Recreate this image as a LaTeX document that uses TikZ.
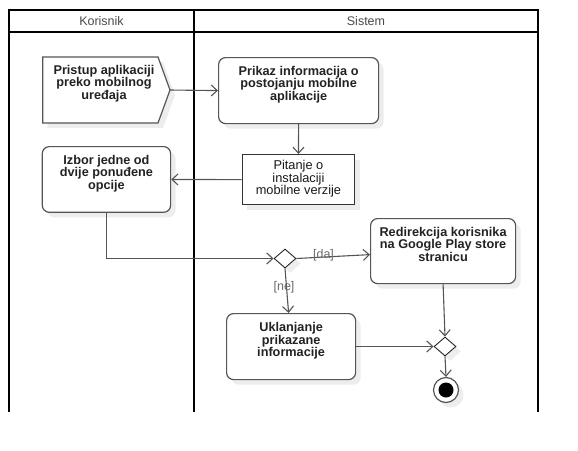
\documentclass[tikz,border=0pt]{standalone}
\usepackage{fontspec}
\setmainfont{Liberation Sans}
\usetikzlibrary{arrows.meta,shapes.geometric,shadows,calc}
\definecolor{edgec}{HTML}{555555}
\definecolor{txtc}{HTML}{222222}
\definecolor{hdrc}{HTML}{4A4A4A}
\definecolor{lblc}{HTML}{6A6A6A}
\begin{document}
\begin{tikzpicture}[x=1pt,y=-1pt,
  lane/.style={line width=1.7pt, draw=black, line cap=rect},
  sh/.style={drop shadow={shadow xshift=5pt, shadow yshift=-5pt, fill=black!7, opacity=1}},
  act/.style={draw=edgec, line width=1.2pt, rounded corners=7pt, fill=white, sh, inner sep=0pt},
  plainbox/.style={draw=black!80, line width=1.2pt, fill=white, sh, inner sep=0pt},
  btxt/.style={inner sep=0pt, align=center, text=txtc, font=\fontsize{12.7}{12.4}\selectfont\bfseries},
  rtxt/.style={inner sep=0pt, align=center, text=black!90, font=\fontsize{12.8}{12.2}\selectfont},
  hdr/.style={inner sep=0pt, text=hdrc, font=\fontsize{12.5}{14}\selectfont},
  lbl/.style={inner sep=0pt, text=lblc, font=\fontsize{12.5}{14}\selectfont},
  dec/.style={diamond, draw=black!85, line width=0.9pt, fill=white, sh, minimum width=22pt, minimum height=19pt, inner sep=0pt},
  arr/.style={draw=edgec, line width=1.1pt, -{Straight Barb[length=6pt,width=11pt]}}
]
\useasboundingbox (0,0) rectangle (578,450);

% swimlanes
\draw[lane] (9,10) -- (538,10);
\draw[lane] (9,32) -- (538,32);
\draw[lane] (9,10) -- (9,411);
\draw[lane] (194,10) -- (194,411);
\draw[lane] (538,10) -- (538,411);
\node[hdr] (hk) at (101.5,21.5) {Korisnik};
\node[hdr] (hs) at (366,21.5) {Sistem};

% send signal
\draw[draw=edgec, line width=1.2pt, fill=white, sh] (42.7,57) -- (158,57) -- (170,90) -- (158,123) -- (42.7,123) -- cycle;
\coordinate (sigtip) at (170,90);
\node[btxt, anchor=north] (sigt) at (104,65) {Pristup aplikaciji\\preko mobilnog\\uređaja};

% Prikaz
\node[act, minimum width=160pt, minimum height=66pt, anchor=north west] (prikaz) at (218,57) {};
\node[btxt, anchor=north] (prikazt) at ($(prikaz.north)+(0,9)$) {Prikaz informacija o\\postojanju mobilne\\aplikacije};

% Pitanje
\node[plainbox, minimum width=112.3pt, minimum height=50pt, anchor=north west] (pit) at (241.7,154) {};
\node[rtxt, anchor=north] (pitt) at ($(pit.north)+(0,6.5)$) {Pitanje o\\instalaciji\\mobilne verzije};

% Izbor
\node[act, minimum width=128.3pt, minimum height=65.7pt, anchor=north west] (izbor) at (41.7,146) {};
\node[btxt, anchor=north] (izbort) at ($(izbor.north)+(0,9)$) {Izbor jedne od\\dvije ponuđene\\opcije};

% decision
\node[dec] (d1) at (285,258.5) {};

% Redirekcija
\node[act, minimum width=145pt, minimum height=65pt, anchor=north west] (redir) at (370,218) {};
\node[btxt, anchor=north] (redirt) at ($(redir.north)+(0,9)$) {Redirekcija korisnika\\na Google Play store\\stranicu};

% Uklanjanje
\node[act, minimum width=129pt, minimum height=66pt, anchor=north west] (ukl) at (226,313) {};
\node[btxt, anchor=north] (uklt) at ($(ukl.north)+(0,9.5)$) {Uklanjanje\\prikazane\\informacije};

% merge
\node[dec] (d2) at (445,346.5) {};

% final
\node[circle, draw=edgec, line width=1.2pt, fill=white, minimum size=25pt, inner sep=0pt, sh] (fin) at (446,390) {};
\node[circle, fill=black, minimum size=15pt, inner sep=0pt] (findot) at (fin.center) {};

% connectors
\draw[arr] (sigtip) -- (prikaz.west);
\draw[arr] (prikaz.south) -- (pit.north);
\draw[arr] (pit.west) -- (izbor.east);
\draw[arr] (izbor.south) |- (d1.west);
\draw[arr] (d1.east) -- ($(redir.west)+(0,3.5)$);
\draw[arr] (d1.south) -- ($(ukl.north)+(-2.5,0)$);
\draw[arr] (redir.south) -- (d2.north);
\draw[arr] (ukl.east |- d2.west) -- (d2.west);
\draw[arr] (d2.south) -- (fin.north);

% guards
\node[lbl] (lda) at (323.5,255.5) {[da]};
\node[lbl] (lne) at (284,287) {[ne]};
\end{tikzpicture}
\end{document}
